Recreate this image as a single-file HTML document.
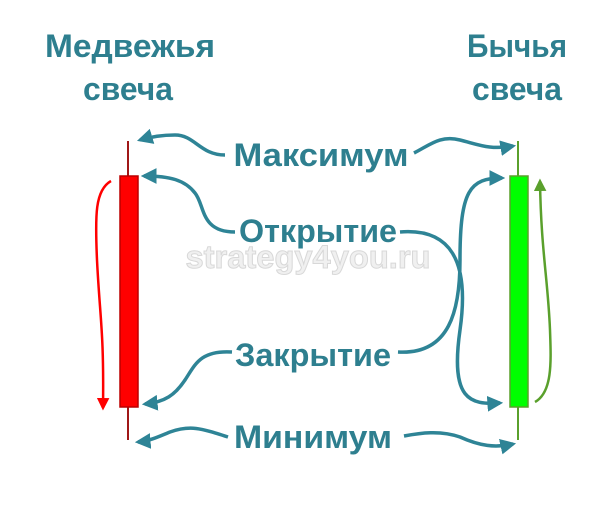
<!DOCTYPE html>
<html><head><meta charset="utf-8"><style>
body{margin:0;background:#fff;width:614px;height:511px;overflow:hidden}
svg{display:block}
text{font-family:"Liberation Sans","DejaVu Sans",sans-serif;font-weight:bold}
</style></head><body>
<svg width="614" height="511" viewBox="0 0 614 511">
<defs>
<marker id="ta" viewBox="0 0 10 10" refX="8" refY="5" markerWidth="4.5" markerHeight="4.5" orient="auto"><path d="M0,0L10,5L0,10z" fill="#2e8496"/></marker>
<marker id="ra" viewBox="0 0 10 10" refX="8" refY="5" markerWidth="5" markerHeight="5" orient="auto"><path d="M0,0L10,5L0,10z" fill="#f00"/></marker>
<marker id="ga" viewBox="0 0 10 10" refX="8" refY="5" markerWidth="5" markerHeight="5" orient="auto"><path d="M0,0L10,5L0,10z" fill="#5aa02c"/></marker>
</defs>
<g fill="#2e7f8f" font-size="32" text-anchor="middle">
<text x="130" y="57" textLength="170" lengthAdjust="spacingAndGlyphs">Медвежья</text><text x="128" y="100" textLength="90" lengthAdjust="spacingAndGlyphs">свеча</text>
<text x="517" y="57" textLength="100" lengthAdjust="spacingAndGlyphs">Бычья</text><text x="517" y="100" textLength="90" lengthAdjust="spacingAndGlyphs">свеча</text>
</g>
<text x="308" y="268" font-size="32" fill="#f0f0f0" stroke="#d8d8d8" stroke-width="1" text-anchor="middle" font-weight="normal" textLength="245" lengthAdjust="spacingAndGlyphs">strategy4you.ru</text>
<g fill="#2e7f8f" font-size="32" text-anchor="middle">
<text x="321" y="166" textLength="175" lengthAdjust="spacingAndGlyphs">Максимум</text>
<text x="318" y="242" textLength="158" lengthAdjust="spacingAndGlyphs">Открытие</text>
<text x="313" y="366" textLength="156" lengthAdjust="spacingAndGlyphs">Закрытие</text>
<text x="313" y="448" textLength="158" lengthAdjust="spacingAndGlyphs">Минимум</text>
</g>
<line x1="128" y1="141" x2="128" y2="440" stroke="#a01818" stroke-width="2"/>
<rect x="120" y="176" width="18" height="231" fill="#f00" stroke="#b00" stroke-width="1.5"/>
<line x1="518" y1="141" x2="518" y2="440" stroke="#5aa02c" stroke-width="2"/>
<rect x="510" y="176" width="18" height="231" fill="#0f0" stroke="#5aa02c" stroke-width="1.5"/>
<path d="M111,181 C95,190 95,215 97,260 C100,320 104,330 103,408" fill="none" stroke="#f00" stroke-width="2.5" marker-end="url(#ra)"/>
<path d="M535,402 C553,392 551,360 550,330 C548,280 541,250 540,181" fill="none" stroke="#5aa02c" stroke-width="2.5" marker-end="url(#ga)"/>
<g fill="none" stroke="#2e8496" stroke-width="3.5">
<path d="M225,155 C200,155 195,135 175,135 C160,135 150,137 140,140" marker-end="url(#ta)"/>
<path d="M414,153 C430,145 440,135 460,140 C480,145 490,150 513,146" marker-end="url(#ta)"/>
<path d="M235,232 C200,232 205,205 195,193 C185,180 170,176 144,176" marker-end="url(#ta)"/>
<path d="M400,232 C450,228 470,260 460,330 C450,400 470,405 500,403" marker-end="url(#ta)"/>
<path d="M398,352 C450,355 460,310 460,260 C460,190 470,178 502,178" marker-end="url(#ta)"/>
<path d="M232,352 C200,350 195,365 185,380 C175,395 165,402 145,404" marker-end="url(#ta)"/>
<path d="M228,437 C200,428 190,425 170,432 C160,436 150,441 138,442" marker-end="url(#ta)"/>
<path d="M404,436 C420,433 440,430 460,437 C480,446 495,448 513,444" marker-end="url(#ta)"/>
</g>
</svg>
</body></html>
